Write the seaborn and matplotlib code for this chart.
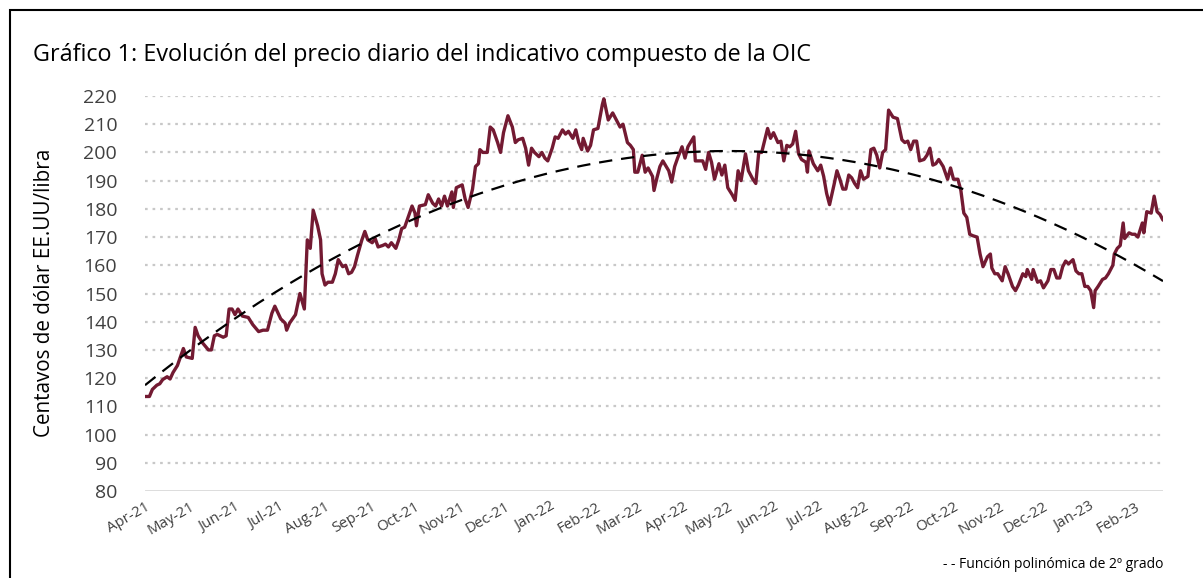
import numpy as np
import pandas as pd
import seaborn as sns
import matplotlib.pyplot as plt
from matplotlib.patches import Rectangle

# days since 2021-04-01 and OIC composite price (US cents/lb)
days = [0, 3, 5, 8, 10, 12, 15, 17, 19, 22, 24, 26, 28, 32, 34, 36, 39, 43, 45, 47,
        49, 53, 55, 57, 59, 61, 63, 66, 70, 73, 77, 80, 83, 86, 88, 92, 95, 96, 98, 102,
        105, 108, 110, 112, 114, 117, 119, 120, 122, 124, 127, 129, 131, 134, 136, 138, 140, 142, 144, 147,
        149, 151, 154, 156, 158, 161, 163, 165, 167, 170, 172, 174, 176, 178, 181, 183, 184, 186, 190, 192,
        195, 197, 199, 201, 203, 205, 208, 209, 211, 215, 217, 219, 222, 224, 226, 227, 229, 232, 234, 236,
        239, 241, 243, 246, 249, 251, 253, 256, 258, 260, 262, 264, 267, 269, 271, 273, 276, 278, 280, 283,
        285, 287, 290, 292, 294, 296, 297, 300, 302, 304, 307, 310, 311, 314, 317, 320, 322, 324, 327, 329,
        331, 332, 334, 337, 339, 341, 344, 345, 347, 349, 351, 355, 357, 359, 361, 364, 366, 368, 372, 373,
        376, 378, 380, 382, 384, 386, 389, 391, 393, 395, 398, 400, 402, 404, 407, 409, 412, 414, 416, 418,
        422, 424, 426, 429, 431, 433, 435, 437, 439, 441, 443, 445, 448, 449, 450, 453, 456, 458, 460, 462,
        464, 467, 469, 471, 473, 475, 477, 479, 481, 483, 485, 487, 490, 492, 494, 496, 498, 500, 502, 504,
        507, 510, 513, 515, 517, 519, 521, 523, 525, 528, 530, 532, 534, 536, 538, 541, 544, 546, 548, 551,
        553, 555, 557, 559, 561, 564, 566, 568, 571, 573, 574, 576, 578, 581, 583, 585, 588, 590, 592, 595,
        597, 598, 601, 602, 605, 607, 609, 612, 614, 616, 618, 620, 622, 624, 626, 629, 631, 633, 635, 637,
        639, 641, 643, 644, 646, 649, 651, 653, 656, 657, 659, 661, 663, 664, 667, 669, 671, 673, 676, 677,
        679, 682, 684, 686, 688, 690]
precio = [113.5, 113.5, 116, 117.5, 118, 119.5, 120.5, 119.7, 122, 124.5, 127.5, 130.5, 127.5, 127, 138, 135, 132.5, 130, 130, 135,
          135.5, 134.5, 135, 144.5, 144.5, 142.5, 144.5, 142, 141.5, 139, 136.5, 137, 137, 143, 145.5, 141, 139.5, 137, 139.5, 142.5,
          150, 144.5, 169, 166, 179.5, 174, 169, 157, 153, 154, 154, 157, 162, 159.5, 160, 157, 157.5, 159.5, 163.5, 169,
          172, 169, 168, 169.5, 166.5, 167, 167.5, 166.5, 168, 166, 169, 173, 173.5, 176.5, 181, 178.5, 174, 181, 181.5, 185,
          182, 181, 183.5, 181, 184.5, 181, 186, 180.5, 187.5, 188.5, 183.5, 180.5, 187, 195, 196, 201, 200, 200, 209, 208,
          203.5, 200, 207, 213, 209, 203.5, 204.5, 205, 201.5, 195.5, 201.5, 200, 198.5, 200, 198, 197, 201.5, 205.5, 205, 208,
          206.5, 207.5, 205, 208, 203.5, 201, 205, 200.5, 202.5, 208, 208.5, 217, 219, 211.5, 214, 211, 209, 210, 203.5, 202.5,
          201, 193, 193, 199, 193, 194.5, 191.5, 186.5, 191, 195, 197, 193.5, 189.5, 195, 198, 202, 198, 202, 205.5, 197,
          197, 197, 194, 200, 196.5, 190.5, 196, 192, 195.5, 187.5, 185, 183, 193.5, 190, 199.5, 193.5, 190.5, 189, 200, 200,
          208.5, 205, 207, 203.5, 204, 197, 202.5, 202, 203, 207.5, 199.5, 197.5, 196.5, 193, 200.5, 196, 193.5, 195.5, 191.5, 185.5,
          181.5, 188.5, 193.5, 190.5, 187, 187, 192, 191, 189, 187.5, 193.5, 190.5, 191.5, 201, 201.5, 199, 194.5, 200, 201, 215,
          212.5, 212, 204.5, 203.5, 204, 201, 204, 204, 197, 197.5, 199, 201.5, 195.5, 196, 197.5, 195, 190.5, 194.5, 190.5, 190.5,
          186.5, 178.5, 177, 171, 170.5, 170, 164, 159.5, 163, 164, 159, 157, 157, 154.5, 159.5, 157, 152.5, 151, 153, 157,
          156, 158.5, 155, 158.5, 154, 154.5, 152, 154.5, 158.5, 158.5, 155.5, 155.5, 159.5, 161.5, 160.5, 162, 158, 157, 157, 152.5,
          152.5, 151, 145, 151, 152.5, 155, 155.5, 157, 160, 164, 166, 167, 175, 169.5, 171.5, 171, 171, 170, 175, 171.5,
          179, 178.5, 184.5, 179, 178, 176]

# three points of the 2nd-degree trend line
tend_dias = [0, 395, 690]
tend_valores = [117.5, 200.5, 154.4]

inicio = pd.Timestamp("2021-04-01")
df = pd.DataFrame({"fecha": inicio + pd.to_timedelta(days, unit="D"), "precio": precio})

coef = np.polyfit(tend_dias, tend_valores, 2)
df["tendencia"] = np.polyval(coef, days)

sns.set_theme(style="white")
plt.rcParams["font.family"] = ["Open Sans", "DejaVu Sans"]

fig = plt.figure(figsize=(12.03, 5.78), dpi=100)
ax = fig.add_axes([145 / 1203, 1 - 491 / 578, (1163 - 145) / 1203, (491 - 96) / 578])

gris_txt = "#404040"
for v in range(90, 230, 10):
    ax.axhline(v, color="#C8C8C8", lw=1.6, ls=(0, (1.2, 2.2)), zorder=0)
ax.axhline(80, color="#D9D9D9", lw=2, zorder=1)

sns.lineplot(data=df, x="fecha", y="precio", color="#731A32", lw=2.4, ax=ax, zorder=3)
sns.lineplot(data=df, x="fecha", y="tendencia", color="black", lw=1.6, ax=ax, zorder=4,
             linestyle=(0, (6, 4)))

ax.set_ylim(80, 220)
ax.set_xlim(inicio, inicio + pd.Timedelta(days=690))
ax.set_yticks(range(80, 230, 10))
ax.tick_params(axis="y", labelsize=14, colors=gris_txt, length=0, pad=20)
meses = pd.date_range("2021-04-01", "2023-02-01", freq="MS")
ax.set_xticks(meses)
ax.set_xticklabels([m.strftime("%b-%y") for m in meses], rotation=30, ha="right",
                   rotation_mode="anchor", fontsize=10.8, color=gris_txt)
ax.tick_params(axis="x", length=0, pad=6)
for s in ax.spines.values():
    s.set_visible(False)
ax.set_xlabel("")
ax.set_ylabel("")

fig.text(33 / 1203, 1 - 55 / 578,
         "Gráfico 1: Evolución del precio diario del indicativo compuesto de la OIC",
         fontsize=16.8, color="black", va="center", ha="left")
fig.text(45 / 1203, 1 - 293 / 578, "Centavos de dólar EE.UU/libra", rotation=90,
         fontsize=14.9, color="black", va="center", ha="center")
fig.text(1163 / 1203, 1 - 565 / 578, "- - Función polinómica de 2º grado",
         fontsize=10, color="black", va="center", ha="right")

fig.patches.append(Rectangle((10 / 1203, -0.05), 1.1, 1.05 - 10 / 578, transform=fig.transFigure,
                             fill=False, edgecolor="black", lw=1.5))

fig.savefig("out.png", dpi=100)
